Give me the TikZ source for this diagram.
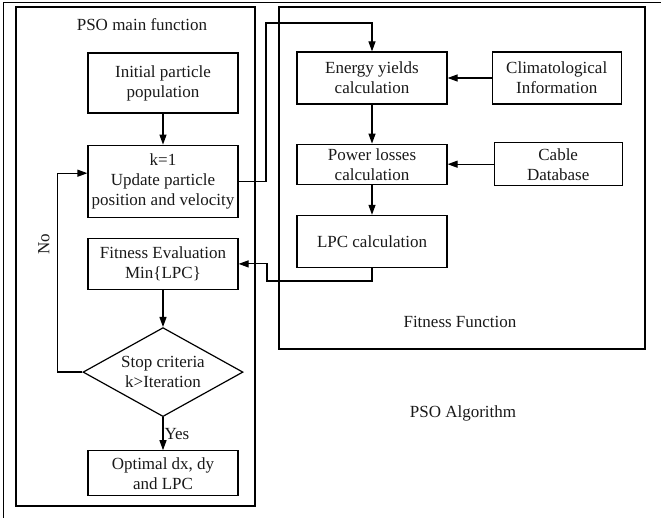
\documentclass[tikz,border=0pt]{standalone}
\usepackage{fontspec}
\setmainfont{Liberation Serif}
\usepackage{tikz}
\usetikzlibrary{shapes.geometric, arrows.meta, positioning}

\begin{document}
\begin{tikzpicture}[x=1pt, y=-1pt,
    every node/.style={font=\fontsize{17}{20}\selectfont, text=black!90},
    block/.style={rectangle, draw, line width=1.2pt, minimum width=150pt, align=center, inner sep=2pt},
    source/.style={rectangle, draw, line width=1.2pt, align=center, inner sep=2pt},
    decision/.style={diamond, draw, line width=1.2pt, aspect=1.8, minimum width=160pt, minimum height=89pt, align=center, inner sep=0pt},
    frame/.style={draw, line width=1.1pt},
    arr/.style={-{Triangle[length=10pt, width=7pt]}, line width=1.2pt},
]
    \useasboundingbox (0,0) rectangle (661,518);

    % frames
    \draw[frame, line width=0.9pt] (3,518) -- (3,2) -- (661,2);
    \draw[frame] (16,7) rectangle (255,506);
    \draw[frame] (279,7) rectangle (645,349);
    \node (maintitle) at (142,25) {PSO main function};
    \node (fittitle) at (460,322) {Fitness Function};
    \node (algotitle) at (463,413) {PSO Algorithm};

    % PSO main function
    \node[block, minimum height=60pt] (init) at (163,83) {Initial particle\\population};
    \node[block, minimum height=72pt, below=31pt of init] (upd) {k=1\\Update particle\\position and velocity};
    \node[block, minimum height=51pt, below=20pt of upd] (fit) {Fitness Evaluation\\Min\{LPC\}};
    \node[decision, below=37pt of fit] (stop) {Stop criteria\\k>Iteration};
    \node[block, minimum height=45pt, below=33pt of stop] (opt) {Optimal dx, dy\\and LPC};

    % fitness function
    \node[block, minimum height=52pt] (energy) at (372,78) {Energy yields\\calculation};
    \node[block, minimum height=40pt, inner sep=0pt, below=39pt of energy] (power) {Power losses\\calculation};
    \node[block, minimum height=52pt, below=30pt of power] (lpc) {LPC calculation};
    \node[source, minimum width=129pt, minimum height=52pt, right=44pt of energy] (clim) {Climatological\\Information};
    \node[source, minimum width=128pt, minimum height=43pt, right=46pt of power] (cable) {Cable\\Database};

    \coordinate (upturn) at (266,23);
    \coordinate (backturn) at (267,281);

    \draw[arr] (init) -- (upd);
    \draw[arr] (upd.east) -| (upturn) -| (energy.north);
    \draw[arr] (clim.west) -- (clim.west -| energy.east);
    \draw[arr] (cable.west) -- (cable.west -| power.east);
    \draw[arr] (energy) -- (power);
    \draw[arr] (power) -- (lpc);
    \draw[arr] (lpc.south) |- (backturn) |- (fit.east);
    \draw[arr] (fit) -- (stop);
    \draw[arr] (stop) -- node[right, inner sep=1pt] {Yes} (opt);
    \draw[arr] (stop.west) -- ++(-25,0) |- ([yshift=8pt]upd.west);
    \node[rotate=90] (no) at (44,244) {No};
\end{tikzpicture}
\end{document}
